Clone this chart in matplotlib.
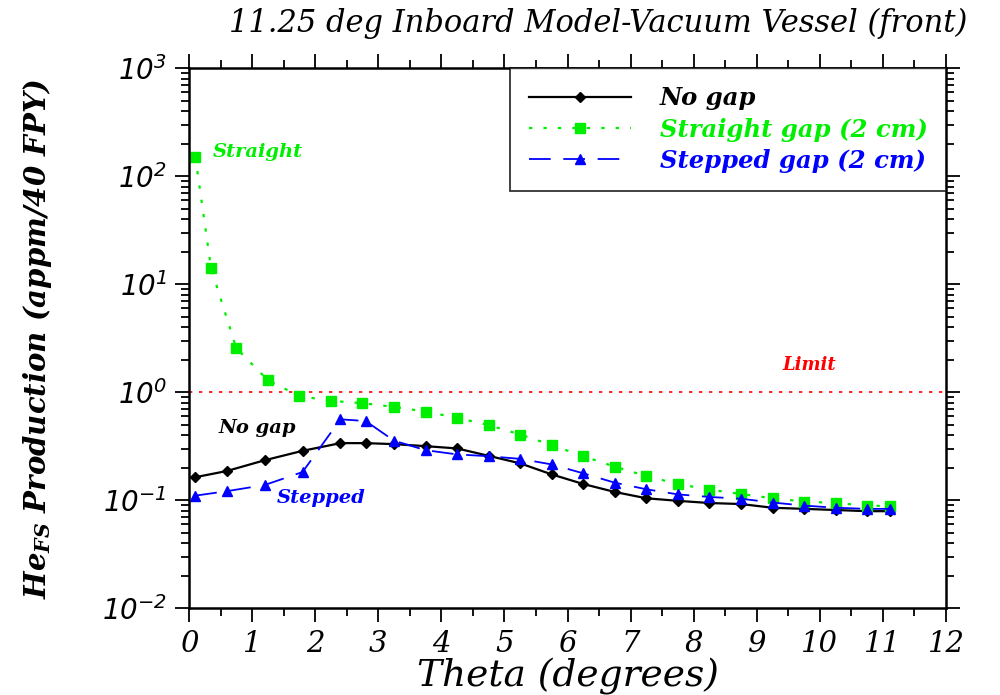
import matplotlib
matplotlib.use("Agg")
import matplotlib.pyplot as plt
from matplotlib.ticker import MultipleLocator, LogLocator, FuncFormatter, NullFormatter

plt.rcParams['mathtext.fontset'] = 'custom'
plt.rcParams['mathtext.it'] = 'DejaVu Serif:italic:bold'
plt.rcParams['mathtext.rm'] = 'DejaVu Serif:bold'
plt.rcParams['mathtext.sf'] = 'DejaVu Sans:italic'

theta_nogap = [0.1, 0.6, 1.2, 1.8, 2.4, 2.8, 3.25, 3.75, 4.25, 4.75, 5.25, 5.75, 6.25, 6.75,
               7.25, 7.75, 8.25, 8.75, 9.25, 9.75, 10.25, 10.75, 11.12]
nogap = [0.163, 0.186, 0.234, 0.286, 0.337, 0.337, 0.33, 0.316, 0.301, 0.257, 0.219, 0.173,
         0.141, 0.119, 0.104, 0.0985, 0.094, 0.092, 0.085, 0.083, 0.081, 0.079, 0.079]
stepped = [0.11, 0.121, 0.138, 0.182, 0.56, 0.54, 0.355, 0.29, 0.265, 0.255, 0.241, 0.214,
           0.177, 0.145, 0.126, 0.113, 0.107, 0.103, 0.095, 0.089, 0.085, 0.083, 0.083]
theta_straight = [0.1, 0.35, 0.75, 1.25, 1.75, 2.25, 2.75, 3.25, 3.75, 4.25, 4.75, 5.25, 5.75,
                  6.25, 6.75, 7.25, 7.75, 8.25, 8.75, 9.25, 9.75, 10.25, 10.75, 11.12]
straight = [151, 14.0, 2.55, 1.29, 0.92, 0.83, 0.79, 0.73, 0.66, 0.578, 0.495, 0.405, 0.323,
            0.255, 0.204, 0.167, 0.141, 0.125, 0.114, 0.104, 0.097, 0.094, 0.089, 0.088]
limit = 1.0

fig = plt.figure(figsize=(10, 6.95), dpi=100)
ax = fig.add_axes([0.189, 0.125, 0.757, 0.777])

GREEN = '#00ee00'
BLUE = '#0000ff'
RED = '#ff0000'

ax.plot([0, 12], [limit, limit], color=RED, ls=(0, (2, 4)), lw=1.2)
l1, = ax.plot(theta_nogap, nogap, color='black', lw=1.6, marker='D', ms=5, label='No gap')
l2, = ax.plot(theta_straight, straight, color=GREEN, lw=1.6, ls=(0, (1.5, 5)), marker='s', ms=7,
              label='Straight gap (2 cm)')
l3, = ax.plot(theta_nogap, stepped, color=BLUE, lw=1.3, ls=(0, (12, 7)), marker='^', ms=7,
              label='Stepped gap (2 cm)')

ax.set_yscale('log')
ax.set_xlim(0, 12)
ax.set_ylim(1e-2, 1e3)

ax.xaxis.set_major_locator(MultipleLocator(1))
ax.xaxis.set_minor_locator(MultipleLocator(0.5))
ax.yaxis.set_major_locator(LogLocator(base=10, numticks=10))
ax.yaxis.set_minor_locator(LogLocator(base=10, subs=range(2, 10), numticks=20))
ax.yaxis.set_minor_formatter(NullFormatter())

def yfmt(v, pos):
    import math
    e = int(round(math.log10(v)))
    return r'$\mathsf{10^{%d}}$' % e

ax.yaxis.set_major_formatter(FuncFormatter(yfmt))

ax.tick_params(which='both', direction='out', top=True, right=True, width=1.3)
ax.tick_params(which='major', length=10)
ax.tick_params(which='minor', length=6)
ax.tick_params(axis='y', labelsize=20, pad=6)
ax.tick_params(axis='x', labelsize=21, pad=6)
for lab in ax.get_xticklabels():
    lab.set_fontfamily('DejaVu Serif')
    lab.set_fontstyle('italic')
for sp in ax.spines.values():
    sp.set_linewidth(1.8)

ax.set_xlabel('Theta (degrees)', fontsize=27, family='DejaVu Serif', style='italic', labelpad=0)
ax.set_ylabel(r'$He_{FS}$ Production (appm/40 FPY)', fontsize=21, family='DejaVu Serif',
              style='italic', weight='bold', labelpad=34)
fig.text(0.598, 0.966, '11.25 deg Inboard Model-Vacuum Vessel (front)', ha='center', va='center',
         fontsize=22, family='DejaVu Serif', style='italic')

ax.text(0.37, 167, 'Straight', color=GREEN, fontsize=14, family='DejaVu Serif', style='italic',
        weight='bold', va='center', ha='left')
ax.text(0.46, 0.464, 'No gap', color='black', fontsize=14, family='DejaVu Serif', style='italic',
        weight='bold', va='center', ha='left')
ax.text(1.39, 0.105, 'Stepped', color=BLUE, fontsize=14, family='DejaVu Serif', style='italic',
        weight='bold', va='center', ha='left')
ax.text(9.4, 1.78, 'Limit', color=RED, fontsize=13, family='DejaVu Serif', style='italic',
        weight='bold', va='center', ha='left')

leg = ax.legend(handles=[l1, l2, l3], loc='upper right', borderaxespad=0, frameon=True,
                fancybox=False, edgecolor='black', handlelength=4.2, handletextpad=1.2,
                borderpad=0.75, labelspacing=0.3,
                prop={'family': 'DejaVu Serif', 'style': 'italic', 'weight': 'bold', 'size': 17.5},
                labelcolor=['black', GREEN, BLUE])
leg.get_frame().set_linewidth(1.3)

fig.savefig('out.png', dpi=100)
